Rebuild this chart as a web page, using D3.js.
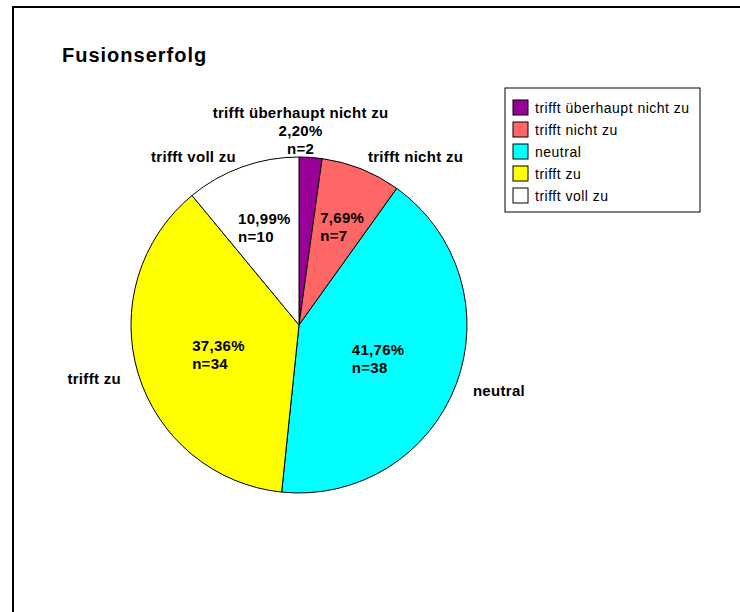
<!DOCTYPE html>
<meta charset="utf-8">
<style>
body { margin: 0; background: #fff; }
svg text { font-family: "Liberation Sans", Arial, sans-serif; fill: #000; }
.title { font-size: 20px; font-weight: bold; letter-spacing: 1px; }
.lbl { font-size: 15px; font-weight: bold; letter-spacing: 0.3px; }
.legend text { font-size: 14px; letter-spacing: 0.5px; }
</style>
<body>
<div id="chart"></div>
<script src="https://d3js.org/d3.v7.min.js"></script>
<script>

// data
var categories = ["trifft überhaupt nicht zu", "trifft nicht zu", "neutral", "trifft zu", "trifft voll zu"];
var counts = [2, 7, 38, 34, 10];
var percents = ["2,20%", "7,69%", "41,76%", "37,36%", "10,99%"];
var colors = ["#990099", "#ff6666", "#00ffff", "#ffff00", "#ffffff"];

var width = 740, height = 612;
var cx = 299, cy = 325, radius = 168;
var total = d3.sum(counts);

var svg = d3.select("#chart").append("svg")
    .attr("width", width)
    .attr("height", height);

// frame (only top and left visible)
svg.append("rect")
    .attr("x", 13).attr("y", 7)
    .attr("width", 760).attr("height", 640)
    .attr("fill", "none")
    .attr("stroke", "#000")
    .attr("stroke-width", 2);

svg.append("text")
    .attr("class", "title")
    .attr("x", 62).attr("y", 62)
    .text("Fusionserfolg");

var pie = d3.pie().sort(null).value(function(d) { return d; });
var arcs = pie(counts);

var arc = d3.arc().innerRadius(0).outerRadius(radius);

var g = svg.append("g").attr("transform", "translate(" + cx + "," + cy + ")");

g.selectAll("path.slice")
  .data(arcs)
  .enter().append("path")
    .attr("class", "slice")
    .attr("d", arc)
    .attr("fill", function(d, i) { return colors[i]; })
    .attr("stroke", "#000")
    .attr("stroke-width", 1)
    .attr("stroke-linejoin", "round");

function midAngle(d) { return (d.startAngle + d.endAngle) / 2; }

// labels
arcs.forEach(function(d, i) {
  var frac = counts[i] / total;
  var a = midAngle(d);
  var s = Math.sin(a), c = -Math.cos(a);

  if (frac < 0.05) {
    // small slice: stacked label above the slice
    var px = radius * s, py = radius * c;
    var t = g.append("text").attr("class", "lbl")
        .attr("text-anchor", "middle")
        .attr("x", px - 10).attr("y", py - 39);
    [categories[i], percents[i], "n=" + counts[i]].forEach(function(line, k) {
      t.append("tspan").attr("x", px - 10).attr("dy", k === 0 ? 0 : 18).text(line);
    });
    return;
  }

  // category label outside (kept below the top of the pie)
  var ro = radius + 18;
  g.append("text").attr("class", "lbl")
      .attr("x", ro * s)
      .attr("y", Math.max(ro * c + 5, -radius + 5))
      .attr("text-anchor", s >= 0 ? "start" : "end")
      .text(categories[i]);

  // value label inside, left aligned block centred on the point
  var ri = radius * (0.7 - 0.5 * frac);
  var ix = ri * s, iy = ri * c;
  var t2 = g.append("text").attr("class", "lbl").attr("y", iy + 1);
  var sp1 = t2.append("tspan").text(percents[i]);
  var sp2 = t2.append("tspan").attr("dy", 18).text("n=" + counts[i]);
  var w = Math.max(sp1.node().getComputedTextLength(), sp2.node().getComputedTextLength());
  sp1.attr("x", ix - w / 2 + 2);
  sp2.attr("x", ix - w / 2 + 2);
});

// legend
var legend = svg.append("g").attr("class", "legend")
    .attr("transform", "translate(505,88)");

legend.append("rect")
    .attr("width", 195).attr("height", 124)
    .attr("fill", "#fff")
    .attr("stroke", "#000")
    .attr("stroke-width", 1);

var item = legend.selectAll("g.item")
  .data(categories)
  .enter().append("g")
    .attr("class", "item")
    .attr("transform", function(d, i) { return "translate(8," + (12 + i * 22) + ")"; });

item.append("rect")
    .attr("width", 15).attr("height", 15)
    .attr("fill", function(d, i) { return colors[i]; })
    .attr("stroke", "#000")
    .attr("stroke-width", 1);

item.append("text")
    .attr("x", 22).attr("y", 13)
    .text(function(d) { return d; });

</script>
</body>
